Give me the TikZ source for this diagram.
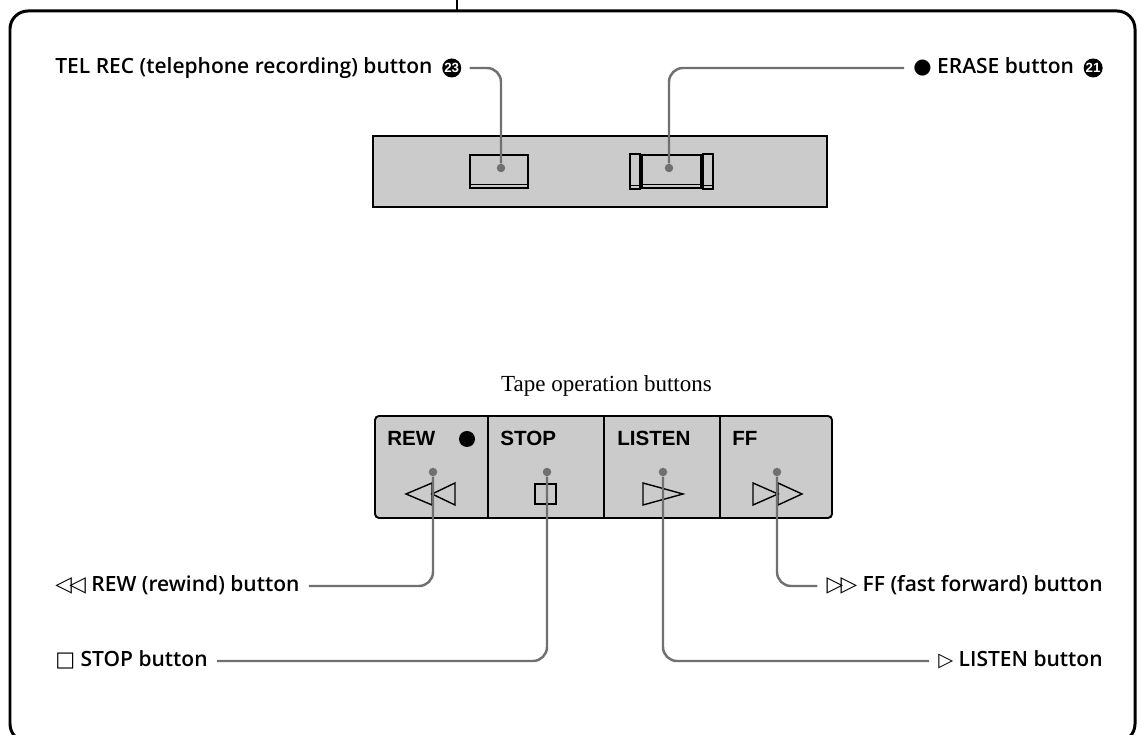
\documentclass[tikz,border=0pt]{standalone}
\usepackage{fontspec}
\usepackage{xcolor}
\usetikzlibrary{positioning}
\IfFontExistsTF{Open Sans SemiBold}
  {\newfontfamily\labelfont{Open Sans SemiBold}\newcommand\lblsize{\fontsize{11.95}{14}\selectfont}}
  {\IfFontExistsTF{Open Sans Semibold}
    {\newfontfamily\labelfont{Open Sans Semibold}\newcommand\lblsize{\fontsize{11.95}{14}\selectfont}}
    {\newfontfamily\labelfont{Open Sans}[FakeBold=2]\newcommand\lblsize{\fontsize{12.2}{14}\selectfont}}}
\newfontfamily\symfont{DejaVu Sans}
\newfontfamily\keyfont{Liberation Sans}
\newfontfamily\capfont{Liberation Serif}
\definecolor{panelgray}{HTML}{CBCBCB}
\definecolor{leadergray}{HTML}{707070}

\begin{document}
\begin{tikzpicture}[
    lbl/.style={font=\labelfont\lblsize, inner xsep=0.18cm,
                inner ysep=0pt, text height=9.2pt, text depth=2.5pt},
    badge/.style={circle, fill=black, text=white, inner sep=0pt, minimum size=0.38cm,
                  font=\keyfont\bfseries\fontsize{7.6}{7.6}\selectfont},
    leader/.style={draw=leadergray, line width=1.4pt, rounded corners=0.28cm},
    dot/.style={circle, fill=leadergray, inner sep=0pt, minimum size=0.17cm},
    panel/.style={draw=black, fill=panelgray, line width=1.1pt, inner sep=0pt},
    btn/.style={draw=black, fill=panelgray, line width=0.8pt, inner sep=0pt},
    keylbl/.style={font=\keyfont\bfseries\fontsize{11.7}{14}\selectfont,
                   anchor=base west, inner sep=0pt},
    sym/.style={draw=black, line width=0.8pt, line join=miter}
  ]
    \useasboundingbox (0,0) rectangle (22.86,14.7);
    % Outer frame
    \draw[line width=1.7pt, rounded corners=0.36cm] (0.2,-0.14) rectangle (22.7,14.48);
    \draw[line width=1.1pt] (9.14,14.7) -- (9.14,14.48);
    % Upper panel (y=11.27)
    \node[panel, minimum width=9.08cm, minimum height=1.42cm] (upper) at (12.0, 11.27) {};
    \node[btn, minimum width=1.16cm, minimum height=0.66cm] (telbtn) at (9.98, 11.27) {};
    \draw[line width=0.5pt] ([yshift=0.08cm]telbtn.south west) -- ([yshift=0.08cm]telbtn.south east);
    \node[btn, minimum width=1.18cm, minimum height=0.66cm] (erasebtn) at (13.43, 11.27) {};
    \draw[line width=0.5pt] ([yshift=0.08cm]erasebtn.south west) -- ([yshift=0.08cm]erasebtn.south east);
    \node[btn, minimum width=0.2cm, minimum height=0.7cm] (eraseleft) at (12.70, 11.27) {};
    \draw[line width=0.5pt] ([yshift=0.08cm]eraseleft.south west) -- ([yshift=0.08cm]eraseleft.south east);
    \node[btn, minimum width=0.2cm, minimum height=0.7cm] (eraseright) at (14.16, 11.27) {};
    \draw[line width=0.5pt] ([yshift=0.08cm]eraseright.south west) -- ([yshift=0.08cm]eraseright.south east);
    \node[dot] (teldot) at (10.02, 11.34) {};
    \node[dot] (erasedot) at (13.38, 11.34) {};
    % Upper labels (y=13.34)
    \node[lbl, anchor=west] (telrec) at (0.92, 13.34) {TEL REC (telephone recording) button};
    \node[badge, right=0pt of telrec] (telnum) {23};
    \node[badge, anchor=east] (erasenum) at (22.06, 13.34) {21};
    \node[lbl, left=0pt of erasenum] (erase) {{\symfont ●} ERASE button};
    % Leaders: upper panel
    \draw[leader] ([xshift=0.16cm]telnum.east) -| (teldot);
    \draw[leader] (erasedot) |- (erase.west);
    % Tape operation buttons
    \node[font=\capfont\fontsize{13.1}{15}\selectfont, anchor=base] (tapecap)
      at (12.13, 6.86) {Tape operation buttons};
    \node[panel, rounded corners=0.08cm, minimum width=9.14cm, minimum height=2.04cm]
      (tape) at (12.07, 5.36) {};
    \draw[line width=1.1pt] (9.76, 6.38) -- (9.76, 4.34);
    \draw[line width=1.1pt] (12.08, 6.38) -- (12.08, 4.34);
    \draw[line width=1.1pt] (14.40, 6.38) -- (14.40, 4.34);
    \node[keylbl] (rewkey) at (7.74, 5.78) {REW};
    \node[keylbl] (stopkey) at (10.00, 5.78) {STOP};
    \node[keylbl] (listenkey) at (12.34, 5.78) {LISTEN};
    \node[keylbl] (ffkey) at (14.64, 5.78) {FF};
    \node[circle, fill=black, inner sep=0pt, minimum size=0.32cm] (recmark) at (9.34, 5.92) {};
    % Key symbols
    \draw[sym] (8.64, 5.04) -- (8.12, 4.82) -- (8.64, 4.60) -- cycle;
    \draw[sym] (9.10, 5.04) -- (8.64, 4.82) -- (9.10, 4.60) -- cycle;
    \draw[sym] (10.70, 5.02) rectangle (11.12, 4.62);
    \draw[sym] (12.86, 5.04) -- (13.66, 4.82) -- (12.86, 4.60) -- cycle;
    \draw[sym] (15.06, 5.04) -- (15.56, 4.82) -- (15.06, 4.60) -- cycle;
    \draw[sym] (15.56, 5.04) -- (16.04, 4.82) -- (15.56, 4.60) -- cycle;
    \node[dot] (rewdot) at (8.66, 5.26) {};
    \node[dot] (stopdot) at (10.94, 5.26) {};
    \node[dot] (listendot) at (13.26, 5.26) {};
    \node[dot] (ffdot) at (15.54, 5.26) {};
    % Lower labels
    \node[lbl, anchor=west] (rew) at (0.92, 2.98)
      {{\symfont\fontsize{12.3}{14}\selectfont ◁\kern-1.5pt◁} REW (rewind) button};
    \node[lbl, anchor=west] (stop) at (0.92, 1.48)
      {{\symfont □} STOP button};
    \node[lbl, anchor=east] (ff) at (22.24, 2.98)
      {{\symfont\fontsize{12.3}{14}\selectfont ▷\kern-1.5pt▷} FF (fast forward) button};
    \node[lbl, anchor=east] (listen) at (22.24, 1.48)
      {{\symfont\fontsize{11}{14}\selectfont ▷} LISTEN button};
    % Leaders: tape buttons
    \draw[leader] (rewdot) |- (rew.east);
    \draw[leader] (stopdot) |- (stop.east);
    \draw[leader] (ffdot) |- (ff.west);
    \draw[leader] (listendot) |- (listen.west);
  \end{tikzpicture}
\end{document}
